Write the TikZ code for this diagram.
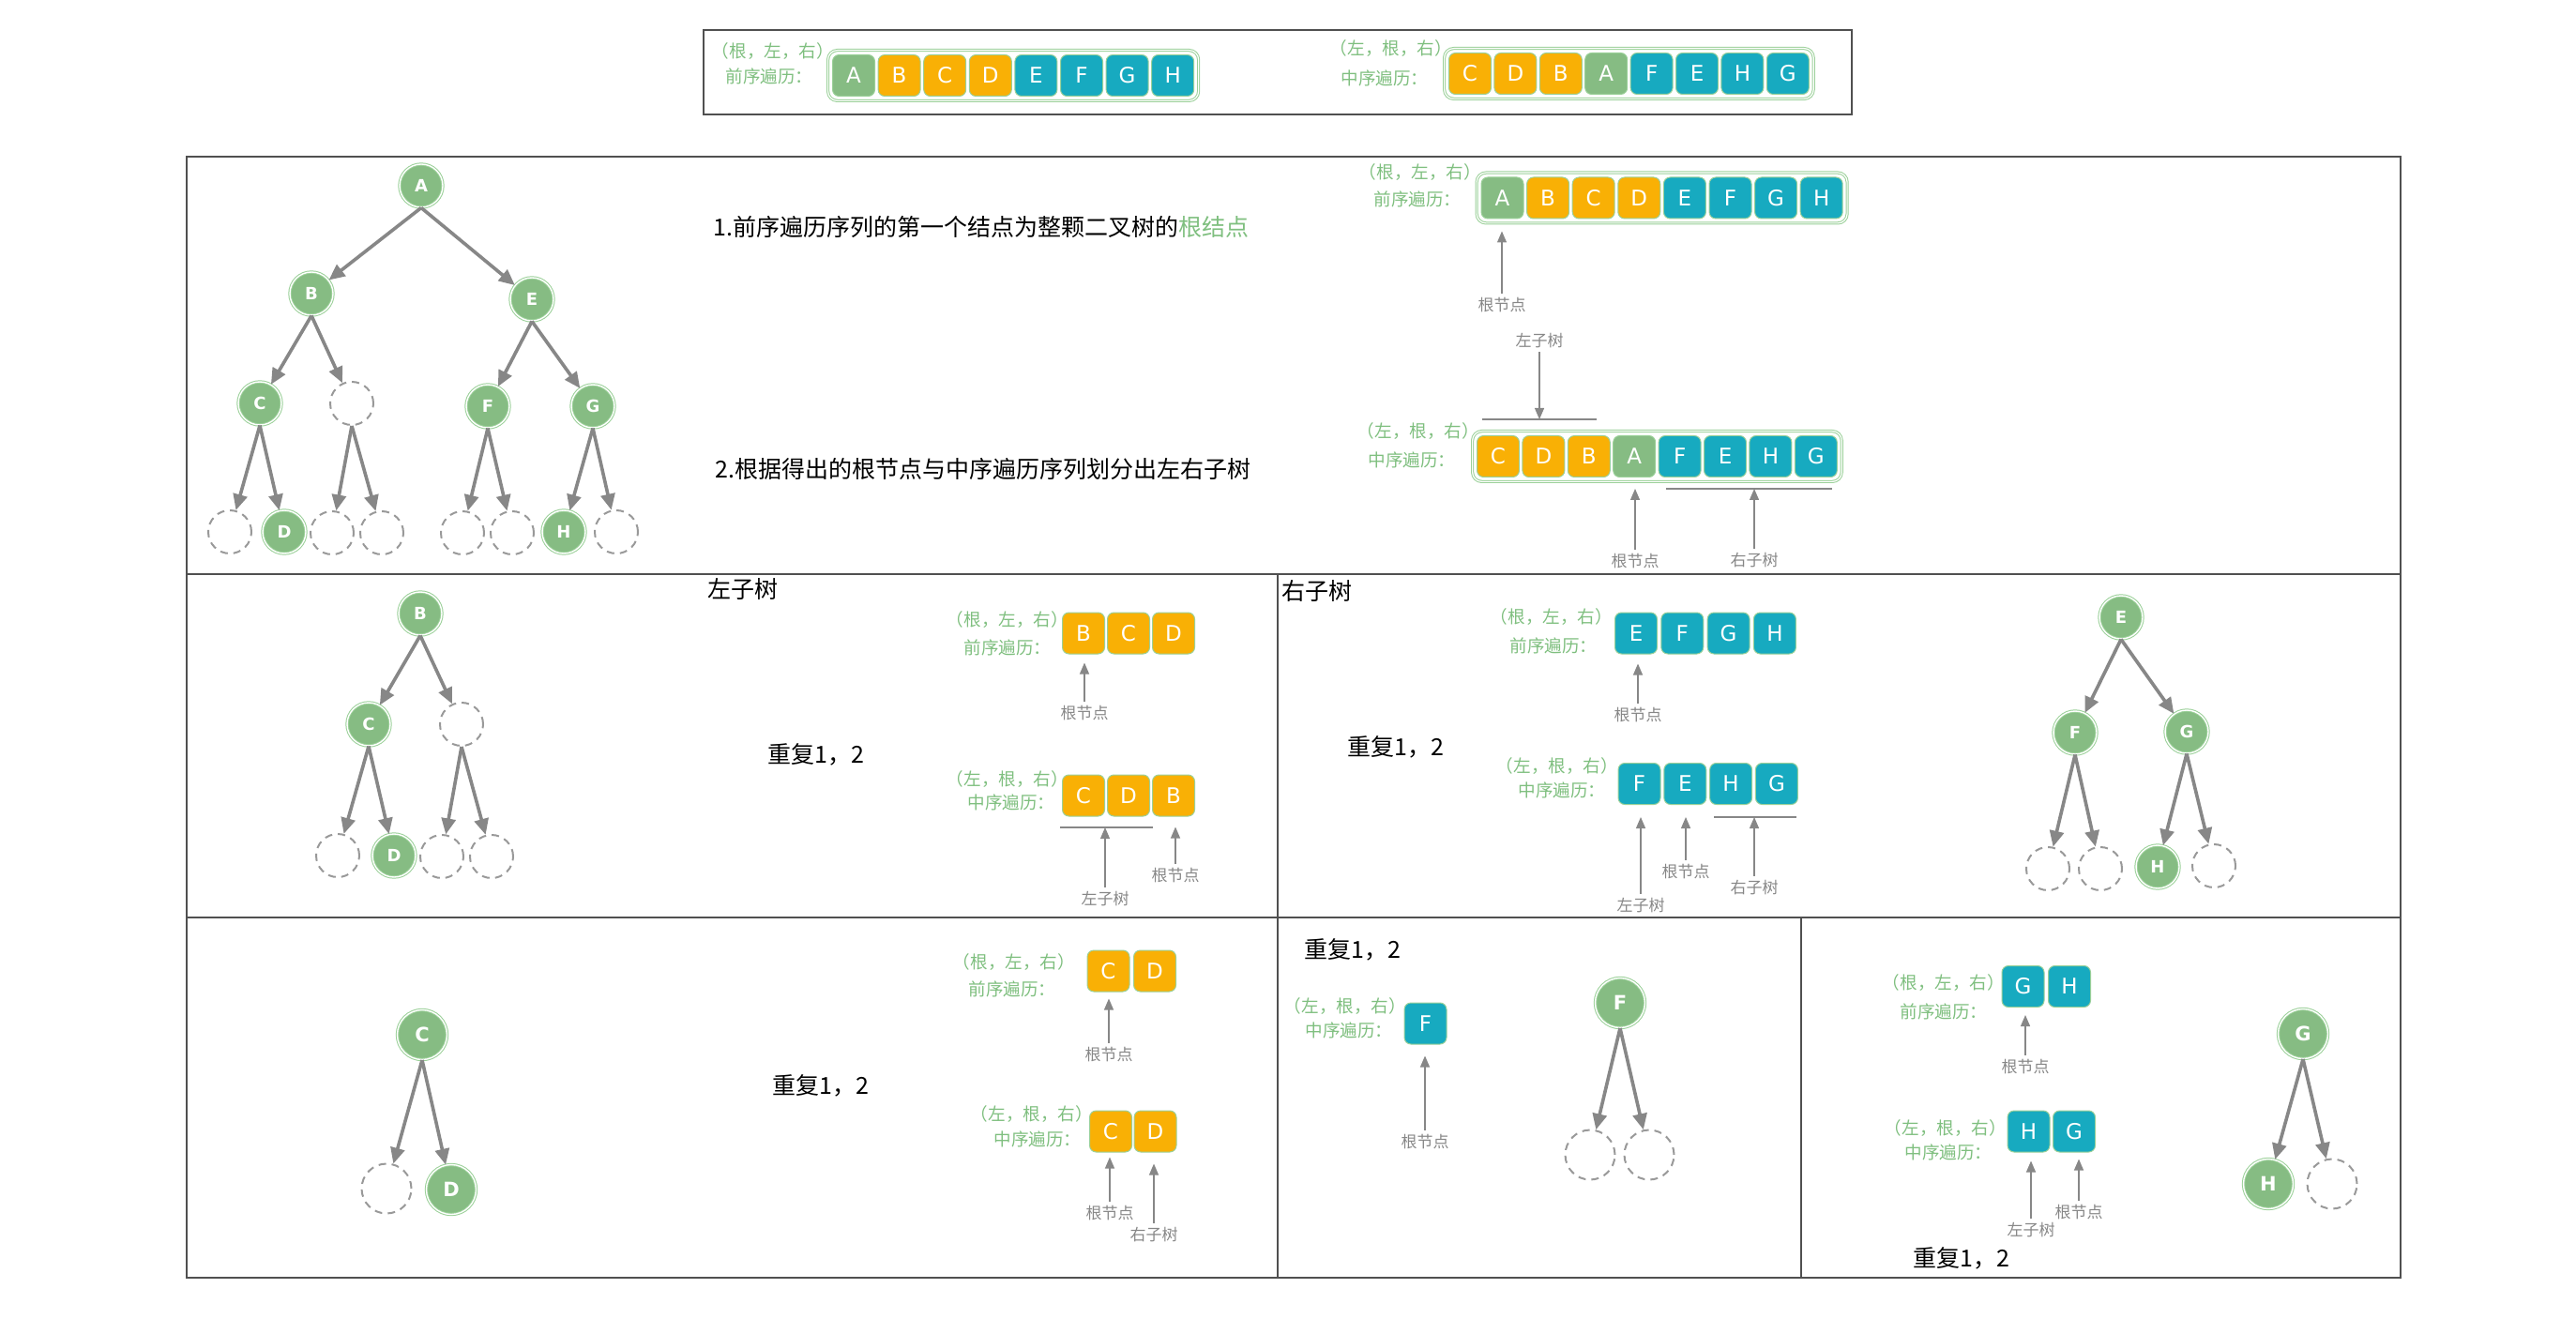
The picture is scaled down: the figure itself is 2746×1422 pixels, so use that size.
\documentclass[tikz,border=0pt]{standalone}
\usepackage{fontspec}
\setmainfont{Noto Sans CJK SC}
\newfontfamily\letterfont{DejaVu Sans}
\usetikzlibrary{arrows.meta,fit,calc}
\definecolor{cgreen}{HTML}{86BC83}
\definecolor{corange}{HTML}{F9B005}
\definecolor{cteal}{HTML}{17AAC0}
\definecolor{ltgreen}{HTML}{7FBF7F}
\definecolor{ringgreen}{HTML}{9AD098}
\definecolor{cgray}{HTML}{878787}
\definecolor{framec}{HTML}{505050}
\tikzset{
 cell/.style={rounded corners=3.5pt, minimum width=22.5pt, minimum height=22pt, inner sep=0pt, draw=ringgreen, line width=0.5pt, text=white, font=\letterfont\fontsize{11.5}{13}\selectfont},
 co/.style={cell, fill=corange}, ct/.style={cell, fill=cteal}, cg/.style={cell, fill=cgreen},
 seqframe/.style={draw=ringgreen, double=white, double distance=0.6pt, line width=0.5pt, rounded corners=5pt, inner sep=2.2pt},
 gtxt/.style={text=ltgreen, font=\fontsize{9.3}{11}\selectfont, inner sep=1pt},
 lbl/.style={text=cgray, font=\fontsize{8.5}{10}\selectfont, inner sep=1pt},
 big/.style={text=black, font=\fontsize{12.5}{14}\selectfont, inner sep=1pt},
 tn/.style={circle, minimum size=23pt, inner sep=0pt, fill=cgreen, draw=ringgreen, double=white, double distance=0.7pt, line width=0.5pt, text=white, font=\letterfont\bfseries\fontsize{9}{10}\selectfont},
 tnL/.style={tn, minimum size=26.5pt, font=\letterfont\bfseries\fontsize{10.5}{12}\selectfont},
 en/.style={circle, minimum size=23pt, inner sep=0pt, draw=cgray!85, dash pattern=on 4pt off 3pt, line width=1pt},
 enL/.style={en, minimum size=26.5pt},
 tedge/.style={draw=cgray, line width=1.8pt, -{Triangle[length=8.5pt,width=7.5pt]}},
 larrow/.style={draw=cgray, line width=0.6pt, shorten <=1pt, -{Triangle[length=6pt,width=5pt]}},
 bline/.style={draw=cgray, line width=1pt},
 frm/.style={draw=framec, line width=1.3pt},
}
\begin{document}
\begin{tikzpicture}[x=0.5pt,y=-0.5pt]
\useasboundingbox (0,0) rectangle (2746,1422);

% ---------- top box ----------
\draw[frm] (750,32) rectangle (1974,122);
\foreach \l/\s [count=\i] in {A/cg,B/co,C/co,D/co,E/ct,F/ct,G/ct,H/ct}
  \node[\s] (tp\i) at ({910+48.6*(\i-1)},80.5) {\l};
\node[seqframe, fit=(tp1)(tp8)] (tpf) {};
\node[gtxt] (tpa) at (824,55) {（根，左，右）};
\node[gtxt] (tpb) at (820,81) {前序遍历：};
\foreach \l/\s [count=\i] in {C/co,D/co,B/co,A/cg,F/ct,E/ct,H/ct,G/ct}
  \node[\s] (ti\i) at ({1567+48.4*(\i-1)},78.5) {\l};
\node[seqframe, fit=(ti1)(ti8)] (tif) {};
\node[gtxt] (tia) at (1483,52) {（左，根，右）};
\node[gtxt] (tib) at (1476,83) {中序遍历：};

% ---------- main frame ----------
\draw[frm] (199,167) rectangle (2559,1362);
\draw[frm] (199,612) -- (2559,612);
\draw[frm] (1362,612) -- (1362,1362);
\draw[frm] (199,978) -- (2559,978);
\draw[frm] (1920,978) -- (1920,1362);

% ---------- row 1 tree ----------
\node[tn] (A) at (449,198) {A};
\node[tn] (B) at (332,313) {B};
\node[tn] (E) at (567,319) {E};
\node[tn] (C) at (277,430) {C};
\node[en] (Bn) at (375,430) {};
\node[tn] (F) at (520,433) {F};
\node[tn] (G) at (632,433) {G};
\node[en] (Cn) at (245,567) {};
\node[tn] (D) at (303,567) {D};
\node[en] (Bn1) at (354,568) {};
\node[en] (Bn2) at (407,568) {};
\node[en] (Fn1) at (493,568) {};
\node[en] (Fn2) at (546,568) {};
\node[tn] (H) at (601,567) {H};
\node[en] (Gn) at (657,567) {};
\foreach \p/\c in {A/B,A/E,B/C,B/Bn,C/Cn,C/D,Bn/Bn1,Bn/Bn2,E/F,E/G,F/Fn1,F/Fn2,G/H,G/Gn}
  \draw[tedge] (\p.south) -- (\c);

% ---------- row 1 text ----------
\node[big, anchor=west] (t1) at (758,242) {1.前序遍历序列的第一个结点为整颗二叉树的\textcolor{ltgreen}{根结点}};
\node[big, anchor=west] (t2) at (760,500) {2.根据得出的根节点与中序遍历序列划分出左右子树};

% ---------- row 1 sequences ----------
\foreach \l/\s [count=\i] in {A/cg,B/co,C/co,D/co,E/ct,F/ct,G/ct,H/ct}
  \node[\s] (mp\i) at ({1601.5+48.6*(\i-1)},211) {\l};
\node[seqframe, fit=(mp1)(mp8)] (mpf) {};
\node[gtxt] (mpa) at (1514,184) {（根，左，右）};
\node[gtxt] (mpb) at (1511,212) {前序遍历：};
\node[lbl] (mpr) at (1601,325) {根节点};
\draw[larrow, shorten >=6.5pt] (mpr.north) -- (mpr.north |- mp1.south);

\foreach \l/\s [count=\i] in {C/co,D/co,B/co,A/cg,F/ct,E/ct,H/ct,G/ct}
  \node[\s] (mi\i) at ({1597+48.4*(\i-1)},486.5) {\l};
\node[seqframe, fit=(mi1)(mi8)] (mif) {};
\node[gtxt] (mia) at (1512,460) {（左，根，右）};
\node[gtxt] (mib) at (1505,490) {中序遍历：};
\node[lbl] (mil) at (1641,363) {左子树};
\coordinate (mlb1) at (1580,447);
\coordinate (mlb2) at (1702,447);
\draw[bline] (mlb1) -- (mlb2);
\draw[larrow] (mil.south) -- (mil.south |- mlb1);
\coordinate (mrb1) at (1776,521);
\coordinate (mrb2) at (1953,521);
\draw[bline] (mrb1) -- (mrb2);
\node[lbl] (mrr) at (1743,598) {根节点};
\draw[larrow] (mrr.north) -- (mrr.north |- mrb1);
\node[lbl] (mrs) at (1870,597) {右子树};
\draw[larrow] (mrs.north) -- (mrs.north |- mrb1);

% ---------- row 2 left ----------
\node[big] (lt) at (792,628) {左子树};
\node[tn] (lB) at (448,654) {B};
\node[tn] (lC) at (393,772) {C};
\node[en] (ln) at (492,772) {};
\node[en] (ln1) at (360,912) {};
\node[tn] (lD) at (420,912) {D};
\node[en] (ln2) at (471,913) {};
\node[en] (ln3) at (524,913) {};
\foreach \p/\c in {lB/lC,lB/ln,lC/ln1,lC/lD,ln/ln2,ln/ln3}
  \draw[tedge] (\p.south) -- (\c);
\node[big] (lrep) at (870,804) {重复1，2};
\foreach \l [count=\i] in {B,C,D}
  \node[co] (lp\i) at ({1155+48*(\i-1)},675) {\l};
\node[gtxt] (lpa) at (1074,661) {（根，左，右）};
\node[gtxt] (lpb) at (1074,690) {前序遍历：};
\node[lbl] (lpr) at (1156,760) {根节点};
\draw[larrow, shorten >=4.5pt] (lpr.north) -- (lpr.north |- lp1.south);
\foreach \l [count=\i] in {C,D,B}
  \node[co] (li\i) at ({1155+48*(\i-1)},848) {\l};
\node[gtxt] (lia) at (1074,831) {（左，根，右）};
\node[gtxt] (lib) at (1078,855) {中序遍历：};
\coordinate (llb1) at (1130,882);
\coordinate (llb2) at (1229,882);
\draw[bline] (llb1) -- (llb2);
\node[lbl] (lil) at (1178,958) {左子树};
\draw[larrow] (lil.north) -- (lil.north |- llb1);
\node[lbl] (lir) at (1253,933) {根节点};
\draw[larrow, shorten >=5.5pt] (lir.north) -- (lir.north |- li3.south);

% ---------- row 2 right ----------
\node[big, anchor=west] (rt) at (1364,630) {右子树};
\foreach \l [count=\i] in {E,F,G,H}
  \node[ct] (rp\i) at ({1744+49.3*(\i-1)},675) {\l};
\node[gtxt] (rpa) at (1654,658) {（根，左，右）};
\node[gtxt] (rpb) at (1656,688) {前序遍历：};
\node[lbl] (rpr) at (1746,762) {根节点};
\draw[larrow, shorten >=5pt] (rpr.north) -- (rpr.north |- rp1.south);
\node[big] (rrep) at (1488,796) {重复1，2};
\foreach \l [count=\i] in {F,E,H,G}
  \node[ct] (ri\i) at ({1747.5+48.8*(\i-1)},835.5) {\l};
\node[gtxt] (ria) at (1660,817) {（左，根，右）};
\node[gtxt] (rib) at (1665,842) {中序遍历：};
\coordinate (rlb1) at (1827,871);
\coordinate (rlb2) at (1915,871);
\draw[bline] (rlb1) -- (rlb2);
\node[lbl] (ril) at (1749,965) {左子树};
\draw[larrow] (ril.north) -- (ril.north |- rlb1);
\node[lbl] (rir) at (1797,929) {根节点};
\draw[larrow] (rir.north) -- (rir.north |- rlb1);
\node[lbl] (ris) at (1870,946) {右子树};
\draw[larrow] (ris.north) -- (ris.north |- rlb1);
\node[tn] (rE) at (2261,658) {E};
\node[tn] (rF) at (2212,781) {F};
\node[tn] (rG) at (2331,780) {G};
\node[en] (rn1) at (2183,926) {};
\node[en] (rn2) at (2239,926) {};
\node[tn] (rH) at (2300,924) {H};
\node[en] (rn3) at (2360,923) {};
\foreach \p/\c in {rE/rF,rE/rG,rF/rn1,rF/rn2,rG/rH,rG/rn3}
  \draw[tedge] (\p.south) -- (\c);

% ---------- row 3 left ----------
\node[tnL] (cC) at (450,1103) {C};
\node[enL] (cn) at (412,1267) {};
\node[tnL] (cD) at (481,1268) {D};
\foreach \p/\c in {cC/cn,cC/cD}
  \draw[tedge] (\p.south) -- (\c);
\node[big] (crep) at (875,1157) {重复1，2};
\foreach \l [count=\i] in {C,D}
  \node[co] (cp\i) at ({1181.5+49.5*(\i-1)},1035) {\l};
\node[gtxt] (cpa) at (1081,1026) {（根，左，右）};
\node[gtxt] (cpb) at (1079,1054) {前序遍历：};
\node[lbl] (cpr) at (1182,1124) {根节点};
\draw[larrow, shorten >=3.5pt] (cpr.north) -- (cpr.north |- cp1.south);
\foreach \l [count=\i] in {C,D}
  \node[co] (ci\i) at ({1184+47.5*(\i-1)},1206) {\l};
\node[gtxt] (cia) at (1100,1188) {（左，根，右）};
\node[gtxt] (cib) at (1106,1214) {中序遍历：};
\node[lbl] (cir) at (1183,1293) {根节点};
\draw[larrow, shorten >=2.5pt] (cir.north) -- (cir.north |- ci1.south);
\node[lbl] (cis) at (1230,1316) {右子树};
\draw[larrow, shorten >=6pt] (cis.north) -- (cis.north |- ci2.south);

% ---------- row 3 middle ----------
\node[big] (frep) at (1442,1012) {重复1，2};
\node[gtxt] (fia) at (1434,1073) {（左，根，右）};
\node[gtxt] (fib) at (1438,1098) {中序遍历：};
\node[ct] (fi1) at (1519.5,1091) {F};
\node[lbl] (fir) at (1519,1217) {根节点};
\draw[larrow, shorten >=6pt] (fir.north) -- (fir.north |- fi1.south);
\node[tnL] (fF) at (1727,1069) {F};
\node[enL] (fn1) at (1695,1231) {};
\node[enL] (fn2) at (1758,1231) {};
\foreach \p/\c in {fF/fn1,fF/fn2}
  \draw[tedge] (\p.south) -- (\c);

% ---------- row 3 right ----------
\node[gtxt] (gpa) at (2072,1048) {（根，左，右）};
\node[gtxt] (gpb) at (2072,1078) {前序遍历：};
\foreach \l [count=\i] in {G,H}
  \node[ct] (gp\i) at ({2156.5+49.5*(\i-1)},1051.5) {\l};
\node[lbl] (gpr) at (2159,1137) {根节点};
\draw[larrow, shorten >=4pt] (gpr.north) -- (gpr.north |- gp1.south);
\node[gtxt] (gia) at (2074,1203) {（左，根，右）};
\node[gtxt] (gib) at (2077,1228) {中序遍历：};
\foreach \l [count=\i] in {H,G}
  \node[ct] (gi\i) at ({2162.5+48.5*(\i-1)},1206) {\l};
\node[lbl] (gil) at (2165,1311) {左子树};
\draw[larrow, shorten >=4.5pt] (gil.north) -- (gil.north |- gi1.south);
\node[lbl] (gir) at (2216,1292) {根节点};
\draw[larrow, shorten >=3.5pt] (gir.north) -- (gir.north |- gi2.south);
\node[big] (grep) at (2091,1341) {重复1，2};
\node[tnL] (gG) at (2455,1102) {G};
\node[tnL] (gH) at (2418,1262) {H};
\node[enL] (gn) at (2486,1262) {};
\foreach \p/\c in {gG/gH,gG/gn}
  \draw[tedge] (\p.south) -- (\c);
\end{tikzpicture}
\end{document}
